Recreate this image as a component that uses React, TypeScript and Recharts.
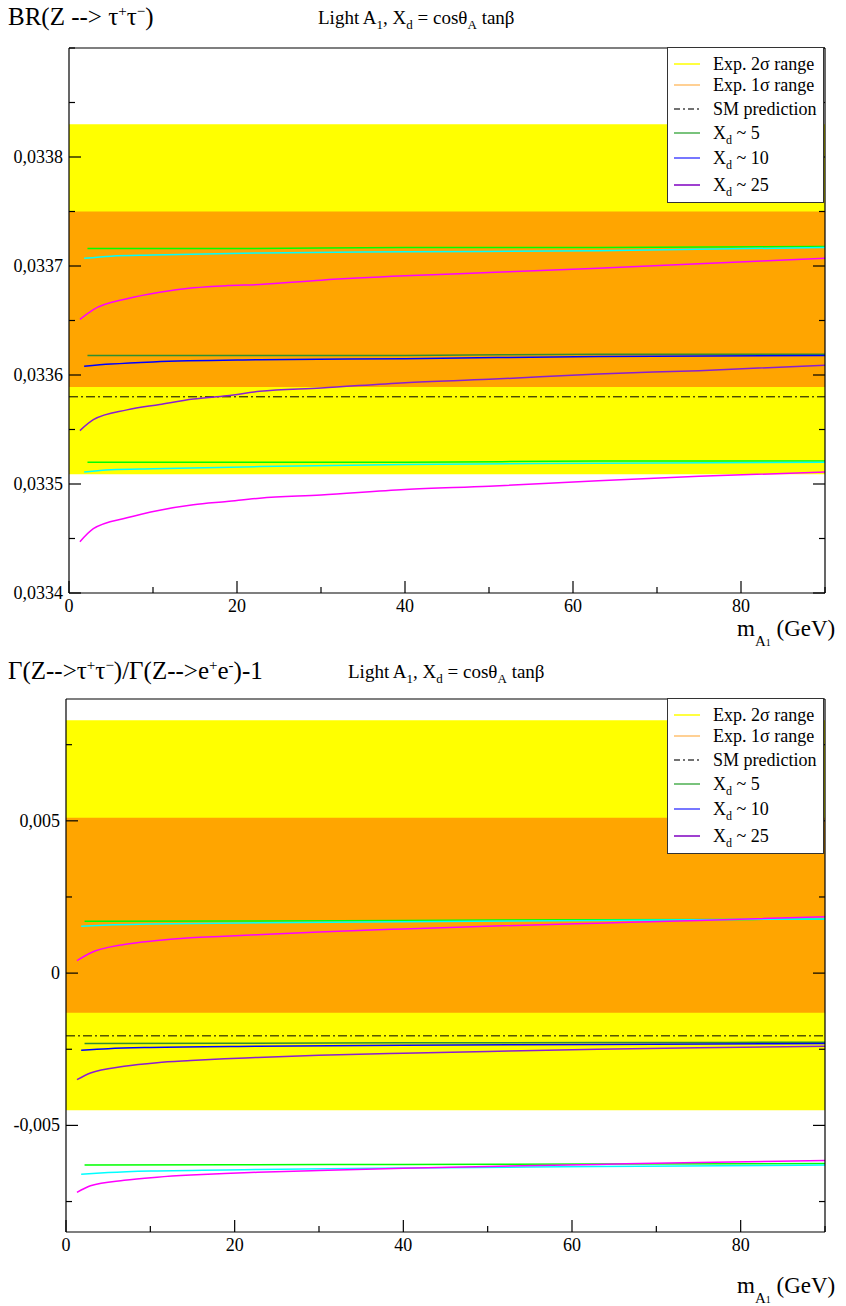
import React from 'react';
import { ComposedChart, Line, XAxis, YAxis, ReferenceArea, ReferenceLine } from 'recharts';

const FONT = "'Liberation Serif', 'Times New Roman', serif";

const massXd25 = [1.3, 2.9, 6.9, 10.8, 14.8, 18.8, 22.7, 30, 40, 50, 63, 75, 90];
const massXd10 = [1.8, 5, 10, 22.7, 40, 63, 90];
const massXd5 = [2.2, 20, 40, 63, 90];

// upper panel: BR(Z -> tau tau)
const brSigma1 = [0.033589, 0.03375];
const brSigma2 = [0.033509, 0.03383];
const brSM = 0.03358;
const brHighXd5 = [0.033716, 0.033716, 0.033717, 0.033717, 0.033718];
const brHighXd10 = [0.033707, 0.033709, 0.03371, 0.033712, 0.033713, 0.033714, 0.033717];
const brHighXd25 = [0.033651, 0.03366, 0.03367, 0.033676, 0.03368, 0.033682, 0.033683, 0.033687, 0.033691, 0.033694, 0.033698, 0.033702, 0.033707];
const brMidXd5 = [0.033618, 0.033618, 0.033618, 0.033619, 0.033619];
const brMidXd10 = [0.033608, 0.03361, 0.033612, 0.033614, 0.033615, 0.033617, 0.033618];
const brMidXd25 = [0.033549, 0.033559, 0.033568, 0.033573, 0.033578, 0.033581, 0.033585, 0.033588, 0.033593, 0.033596, 0.033601, 0.033604, 0.033609];
const brLowXd5 = [0.03352, 0.03352, 0.03352, 0.033521, 0.033521];
const brLowXd10 = [0.033511, 0.033513, 0.033514, 0.033516, 0.033518, 0.033519, 0.03352];
const brLowXd25 = [0.033447, 0.033459, 0.033469, 0.033476, 0.033481, 0.033484, 0.033487, 0.03349, 0.033495, 0.033498, 0.033503, 0.033507, 0.033511];

// lower panel: Gamma(tau tau)/Gamma(e e) - 1
const rSigma1 = [-0.0013, 0.0051];
const rSigma2 = [-0.0045, 0.0083];
const rSM = -0.00206;
const rHighXd5 = [0.0017, 0.00171, 0.00173, 0.00175, 0.00177];
const rHighXd10 = [0.00154, 0.00158, 0.00161, 0.00165, 0.00169, 0.00173, 0.00178];
const rHighXd25 = [0.00041, 0.00066, 0.00094, 0.00107, 0.00116, 0.00121, 0.00126, 0.00135, 0.00145, 0.00154, 0.00164, 0.00173, 0.00185];
const rMidXd5 = [-0.00231, -0.0023, -0.00229, -0.00228, -0.00227];
const rMidXd10 = [-0.00253, -0.00248, -0.00244, -0.0024, -0.00237, -0.00234, -0.00231];
const rMidXd25 = [-0.0035, -0.00328, -0.00306, -0.00294, -0.00287, -0.00281, -0.00277, -0.0027, -0.00263, -0.00257, -0.0025, -0.00245, -0.0024];
const rLowXd5 = [-0.0063, -0.00629, -0.00628, -0.00627, -0.00625];
const rLowXd10 = [-0.0066, -0.00655, -0.0065, -0.00645, -0.0064, -0.00635, -0.0063];
const rLowXd25 = [-0.0072, -0.00698, -0.0068, -0.0067, -0.00663, -0.00658, -0.00654, -0.00648, -0.00641, -0.00635, -0.00628, -0.00622, -0.00615];

// ticks
const xTicks = [0, 10, 20, 30, 40, 50, 60, 70, 80, 90];
const xLabelled = [0, 20, 40, 60, 80];
const brTicks = [0.0334, 0.03345, 0.0335, 0.03355, 0.0336, 0.03365, 0.0337, 0.03375, 0.0338, 0.03385, 0.0339];
const brLabelled = [0.0334, 0.0335, 0.0336, 0.0337, 0.0338];
const rTicks = [-0.0075, -0.005, -0.0025, 0, 0.0025, 0.005, 0.0075];
const rLabelled = [-0.005, 0, 0.005];

const legendRows = [16, 37, 61, 85, 110, 137];

const zip = (xs: number[], ys: number[]) => xs.map((x, i) => ({ x, y: ys[i] }));

const isIn = (list: number[], v: number) => list.some((m) => Math.abs(m - v) < 1e-9);

// ticks point into the plot, labels only on the bottom/left axes
const makeTick = (side: string, majors: number[], fmt?: (v: number) => string) => (props: any) => {
  const { x, y, payload } = props;
  const v = payload.value;
  const major = isIn(majors, v);
  const len = major ? 12 : 6;
  let x2 = x;
  let y2 = y;
  if (side === 'bottom') y2 = y - len;
  if (side === 'top') y2 = y + len;
  if (side === 'left') x2 = x + len;
  if (side === 'right') x2 = x - len;
  return (
    <g>
      <line x1={x} y1={y} x2={x2} y2={y2} stroke="#000" strokeWidth={1.2} />
      {fmt && major && side === 'bottom' && (
        <text x={x} y={y + 19} textAnchor="middle" fontFamily={FONT} fontSize={18} fill="#000">{fmt(v)}</text>
      )}
      {fmt && major && side === 'left' && (
        <text x={x - 6} y={y + 6} textAnchor="end" fontFamily={FONT} fontSize={18} fill="#000">{fmt(v)}</text>
      )}
    </g>
  );
};

type Curve = { name: string; x: number[]; y: number[]; color: string };

const brCurves: Curve[] = [
  { name: 'hi5', x: massXd5, y: brHighXd5, color: '#00ff00' },
  { name: 'hi10', x: massXd10, y: brHighXd10, color: '#00ffff' },
  { name: 'hi25', x: massXd25, y: brHighXd25, color: '#ff00ff' },
  { name: 'mid5', x: massXd5, y: brMidXd5, color: '#2f8f2f' },
  { name: 'mid10', x: massXd10, y: brMidXd10, color: '#0000ff' },
  { name: 'mid25', x: massXd25, y: brMidXd25, color: '#8a1fd0' },
  { name: 'lo5', x: massXd5, y: brLowXd5, color: '#00ff00' },
  { name: 'lo10', x: massXd10, y: brLowXd10, color: '#00ffff' },
  { name: 'lo25', x: massXd25, y: brLowXd25, color: '#ff00ff' },
];

const rCurves: Curve[] = [
  { name: 'hi5', x: massXd5, y: rHighXd5, color: '#00ff00' },
  { name: 'hi10', x: massXd10, y: rHighXd10, color: '#00ffff' },
  { name: 'hi25', x: massXd25, y: rHighXd25, color: '#ff00ff' },
  { name: 'mid5', x: massXd5, y: rMidXd5, color: '#2f8f2f' },
  { name: 'mid10', x: massXd10, y: rMidXd10, color: '#0000ff' },
  { name: 'mid25', x: massXd25, y: rMidXd25, color: '#8a1fd0' },
  { name: 'lo5', x: massXd5, y: rLowXd5, color: '#00ff00' },
  { name: 'lo10', x: massXd10, y: rLowXd10, color: '#00ffff' },
  { name: 'lo25', x: massXd25, y: rLowXd25, color: '#ff00ff' },
];

const fmtBR = (v: number) => v.toFixed(4).replace('.', ',');
const fmtR = (v: number) => (v === 0 ? '0' : v.toFixed(3).replace('.', ','));

interface PanelProps {
  height: number;
  margin: { top: number; right: number; bottom: number; left: number };
  domain: [number, number];
  ticks: number[];
  labelled: number[];
  fmt: (v: number) => string;
  sigma1: number[];
  sigma2: number[];
  sm: number;
  curves: Curve[];
}

const frame = { stroke: '#000', strokeWidth: 1.2 };

const Panel: React.FC<PanelProps> = ({ height, margin, domain, ticks, labelled, fmt, sigma1, sigma2, sm, curves }) => (
  <ComposedChart width={846} height={height} margin={margin}>
    <XAxis dataKey="x" type="number" domain={[0, 90]} ticks={xTicks} interval={0} height={30}
      tickSize={0} tickMargin={0} tickLine={false} axisLine={frame} allowDataOverflow
      tick={makeTick('bottom', xLabelled, (v) => String(v))} />
    <XAxis xAxisId="top" orientation="top" type="number" domain={[0, 90]} ticks={xTicks} interval={0} height={30}
      tickSize={0} tickMargin={0} tickLine={false} axisLine={frame} allowDataOverflow
      tick={makeTick('top', xLabelled)} />
    <YAxis type="number" domain={domain} ticks={ticks} interval={0} width={60}
      tickSize={0} tickMargin={0} tickLine={false} axisLine={frame} allowDataOverflow
      tick={makeTick('left', labelled, fmt)} />
    <YAxis yAxisId="right" orientation="right" type="number" domain={domain} ticks={ticks} interval={0} width={20}
      tickSize={0} tickMargin={0} tickLine={false} axisLine={frame} allowDataOverflow
      tick={makeTick('right', labelled)} />
    <ReferenceArea y1={sigma2[0]} y2={sigma2[1]} fill="#ffff00" fillOpacity={1} stroke="none" />
    <ReferenceArea y1={sigma1[0]} y2={sigma1[1]} fill="#ffa500" fillOpacity={1} stroke="none" />
    <ReferenceLine y={sm} stroke="#000" strokeWidth={1} strokeDasharray="9 3 2 3" />
    {curves.map((c) => (
      <Line key={c.name} data={zip(c.x, c.y)} dataKey="y" type="monotone" dot={false}
        stroke={c.color} strokeWidth={1.5} isAnimationActive={false} />
    ))}
  </ComposedChart>
);

const legendItems = [
  { label: <>Exp. 2σ range</>, color: '#ffff00', dash: undefined },
  { label: <>Exp. 1σ range</>, color: '#ffc070', dash: undefined },
  { label: <>SM prediction</>, color: '#444', dash: '6 3 2 3' },
  { label: <>X<sub style={{ fontSize: 12 }}>d</sub> ~ 5</>, color: '#4caf50', dash: undefined },
  { label: <>X<sub style={{ fontSize: 12 }}>d</sub> ~ 10</>, color: '#4a4aff', dash: undefined },
  { label: <>X<sub style={{ fontSize: 12 }}>d</sub> ~ 25</>, color: '#7f00c0', dash: undefined },
];

const LegendBox: React.FC<{ left: number; top: number }> = ({ left, top }) => (
  <div style={{ position: 'absolute', left, top, width: 157, height: 156, border: '1px solid #333',
    background: '#fff', boxSizing: 'border-box', fontFamily: FONT, fontSize: 18 }}>
    {legendItems.map((it, i) => (
      <div key={i} style={{ position: 'absolute', left: 0, top: legendRows[i] - 10, height: 20, width: 157 }}>
        <svg width={40} height={20} style={{ position: 'absolute', left: 0, top: 0 }}>
          <line x1={6} y1={10} x2={32} y2={10} stroke={it.color} strokeWidth={1.5} strokeDasharray={it.dash} />
        </svg>
        <span style={{ position: 'absolute', left: 45, top: 0, lineHeight: '20px', whiteSpace: 'nowrap' }}>{it.label}</span>
      </div>
    ))}
  </div>
);

const sup = { fontSize: 15, verticalAlign: 'super', lineHeight: 0 } as React.CSSProperties;
const sub = { fontSize: 13, verticalAlign: 'sub', lineHeight: 0 } as React.CSSProperties;

const text = (left: number, top: number, size: number): React.CSSProperties => ({
  position: 'absolute', left, top, fontFamily: FONT, fontSize: size, lineHeight: 1, whiteSpace: 'nowrap', color: '#000',
});

const Subtitle = () => (
  <>Light A<span style={sub}>1</span>, X<span style={sub}>d</span> = cosθ<span style={sub}>A</span> tanβ</>
);

const MassLabel = () => (
  <>m<span style={{ fontSize: 15, verticalAlign: '-10px', lineHeight: 0 }}>A<span style={{ fontSize: 10 }}>1</span></span> (GeV)</>
);

export default function App() {
  return (
    <div style={{ position: 'absolute', left: 0, top: 0, width: 846, height: 1306, background: '#fff', overflow: 'hidden' }}>
      <div style={{ position: 'absolute', left: 0, top: 0 }}>
        <Panel height={640} margin={{ top: 18, right: 1, bottom: 17, left: 9 }}
          domain={[0.0334, 0.0339]} ticks={brTicks} labelled={brLabelled} fmt={fmtBR}
          sigma1={brSigma1} sigma2={brSigma2} sm={brSM} curves={brCurves} />
      </div>
      <div style={{ position: 'absolute', left: 0, top: 650 }}>
        <Panel height={640} margin={{ top: 19, right: 1, bottom: 28, left: 6 }}
          domain={[-0.0085, 0.009]} ticks={rTicks} labelled={rLabelled} fmt={fmtR}
          sigma1={rSigma1} sigma2={rSigma2} sm={rSM} curves={rCurves} />
      </div>

      <div style={text(8, 4, 25)}>BR(Z --&gt; τ<span style={sup}>+</span>τ<span style={sup}>−</span>)</div>
      <div style={text(318, 8, 19)}><Subtitle /></div>
      <div style={text(8, 658, 25)}>Γ(Z--&gt;τ<span style={sup}>+</span>τ<span style={sup}>−</span>)/Γ(Z--&gt;e<span style={sup}>+</span>e<span style={sup}>-</span>)-1</div>
      <div style={text(348, 662, 19)}><Subtitle /></div>

      <div style={text(737, 617, 23)}><MassLabel /></div>
      <div style={text(737, 1274, 23)}><MassLabel /></div>

      <LegendBox left={667} top={47} />
      <LegendBox left={667} top={698} />
    </div>
  );
}
